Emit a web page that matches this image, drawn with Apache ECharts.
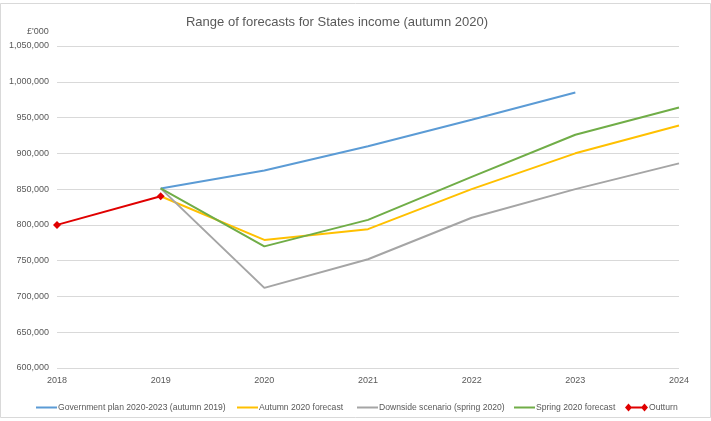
<!DOCTYPE html>
<html>
<head>
<meta charset="utf-8">
<script src="https://cdn.jsdelivr.net/npm/echarts@6/dist/echarts.min.js"></script>
<style>html,body{margin:0;padding:0;background:#fff}#c{width:711px;height:421px}</style>
</head>
<body>
<div id="c"></div>
<script>
var years = ['2018','2019','2020','2021','2022','2023','2024'];
var govPlan = [null, 851000, 876000, 910000, 947000, 985000, null];
var autumn2020 = [null, 840000, 779000, 794000, 850000, 900000, 939000];
var downside = [null, 851000, 712000, 752000, 810000, 850000, 886000];
var spring2020 = [null, 851000, 770000, 807000, 867000, 926000, 964000];
var outturn = [800000, 840000, null, null, null, null, null];
var yTicks = {min: 600000, max: 1050000, step: 50000};

var font = '"Liberation Sans", Arial, sans-serif';
var txt = '#595959';
var chart = echarts.init(document.getElementById('c'), null, {renderer: 'canvas'});
function lineSeries(name, data, color) {
  return {name: name, type: 'line', data: data, symbol: 'none', connectNulls: false,
    lineStyle: {color: color, width: 2}, itemStyle: {color: color}, z: 2};
}
function legendItem(name, left, icon, w, h) {
  return {data: [{name: name, icon: icon}], left: left, top: 398, itemWidth: w, itemHeight: h,
    textStyle: {fontFamily: font, fontSize: 8.6, color: txt, padding: [0, 0, 0, -4]}};
}
var diamondIcon = 'path://M0,4 L3.5,0 L7,4 L3.5,8 Z M3.5,3 H19.5 V5 H3.5 Z M16,4 L19.5,0 L23,4 L19.5,8 Z';
chart.setOption({
  animation: false,
  backgroundColor: '#fff',
  title: {text: 'Range of forecasts for States income (autumn 2020)', left: 332, top: 11, textAlign: 'center',
    textStyle: {fontFamily: font, fontSize: 13, fontWeight: 'normal', color: txt}},
  graphic: [
    {type: 'rect', shape: {x: 0.5, y: 3.5, width: 710, height: 414}, style: {fill: 'none', stroke: '#d9d9d9', lineWidth: 1}, silent: true},
    {type: 'text', left: 27, top: 27, style: {text: "£'000", font: '9px ' + font, fill: txt}}
  ],
  grid: {left: 57, right: 32, top: 46, bottom: 53, containLabel: false},
  legend: [
    legendItem('Government plan 2020-2023 (autumn 2019)', 31, 'rect', 21, 2),
    legendItem('Autumn 2020 forecast', 232, 'rect', 21, 2),
    legendItem('Downside scenario (spring 2020)', 352, 'rect', 21, 2),
    legendItem('Spring 2020 forecast', 509, 'rect', 21, 2),
    legendItem('Outturn', 620, diamondIcon, 23, 8)
  ],
  xAxis: {type: 'category', data: years, boundaryGap: false,
    axisLine: {show: false}, axisTick: {show: false},
    axisLabel: {color: txt, fontFamily: font, fontSize: 9, margin: 8},
    splitLine: {show: false}},
  yAxis: {type: 'value', min: yTicks.min, max: yTicks.max, interval: yTicks.step,
    axisLine: {show: false}, axisTick: {show: false},
    axisLabel: {color: txt, fontFamily: font, fontSize: 9, margin: 8,
      formatter: function (v) { return v.toLocaleString('en-US'); }},
    splitLine: {lineStyle: {color: '#d9d9d9', width: 1}}},
  series: [
    lineSeries('Government plan 2020-2023 (autumn 2019)', govPlan, '#5B9BD5'),
    lineSeries('Autumn 2020 forecast', autumn2020, '#FFC000'),
    lineSeries('Downside scenario (spring 2020)', downside, '#A5A5A5'),
    lineSeries('Spring 2020 forecast', spring2020, '#70AD47'),
    {name: 'Outturn', type: 'line', data: outturn, symbol: 'diamond', symbolSize: 8, showSymbol: true,
      lineStyle: {color: '#E00000', width: 2}, itemStyle: {color: '#E00000'}, z: 3}
  ]
});
</script>
</body>
</html>
